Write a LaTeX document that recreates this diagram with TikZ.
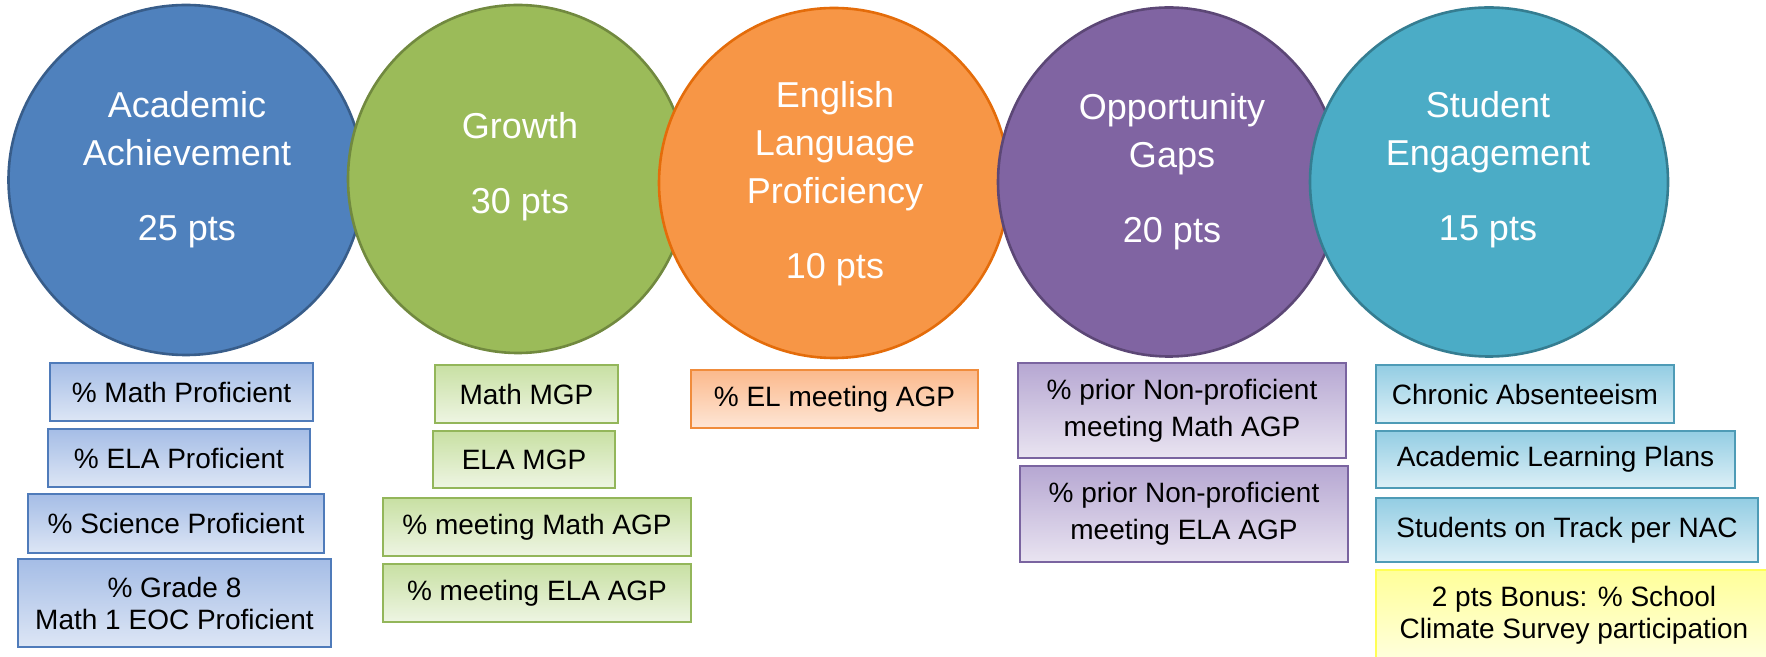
\documentclass[tikz,border=0pt]{standalone}
\usepackage{fontspec}
\setmainfont{Liberation Sans}
\usepackage{tikz}
\usetikzlibrary{shapes}

\definecolor{acblue}{HTML}{4F81BD}
\definecolor{acblueline}{HTML}{385D8A}
\definecolor{grgreen}{HTML}{9BBB59}
\definecolor{grgreenline}{HTML}{71893F}
\definecolor{elorange}{HTML}{F79646}
\definecolor{elorangeline}{HTML}{E46C0A}
\definecolor{oppurple}{HTML}{8064A2}
\definecolor{oppurpleline}{HTML}{5C4776}
\definecolor{seteal}{HTML}{4BACC6}
\definecolor{setealline}{HTML}{357D91}

\definecolor{bxblueline}{HTML}{4F7BBA}
\definecolor{bxbluetop}{HTML}{A5BDE6}
\definecolor{bxbluebot}{HTML}{DDE6F5}
\definecolor{bxgreenline}{HTML}{93B65A}
\definecolor{bxgreentop}{HTML}{C8E0A3}
\definecolor{bxgreenbot}{HTML}{EEF5E3}
\definecolor{bxorangeline}{HTML}{F08C3C}
\definecolor{bxorangetop}{HTML}{FBB98C}
\definecolor{bxorangebot}{HTML}{FEE6D6}
\definecolor{bxpurpleline}{HTML}{7A64A0}
\definecolor{bxpurpletop}{HTML}{B6A7D2}
\definecolor{bxpurplebot}{HTML}{E9E4F1}
\definecolor{bxtealline}{HTML}{4E9BB6}
\definecolor{bxtealtop}{HTML}{93CDE3}
\definecolor{bxtealbot}{HTML}{DDF0F7}
\definecolor{bxyellowline}{HTML}{FFFF55}
\definecolor{bxyellowtop}{HTML}{FFFF99}
\definecolor{bxyellowbot}{HTML}{FFFFDD}

\begin{document}
\begin{tikzpicture}[x=0.5pt,y=-0.5pt]
\tikzstyle{disc}=[ellipse,draw,line width=1.3pt,inner sep=0pt]
\tikzstyle{disctext}=[anchor=north,inner sep=0pt,align=center,text=white,font=\fontsize{18}{24}\selectfont]
\tikzstyle{item}=[draw,line width=0.8pt,inner sep=0pt,align=center,text=black,font=\fontsize{14}{16}\selectfont]
\tikzstyle{blueitem}=[item,draw=bxblueline,top color=bxbluetop,bottom color=bxbluebot]
\tikzstyle{greenitem}=[item,draw=bxgreenline,top color=bxgreentop,bottom color=bxgreenbot]
\tikzstyle{orangeitem}=[item,draw=bxorangeline,top color=bxorangetop,bottom color=bxorangebot]
\tikzstyle{purpleitem}=[item,draw=bxpurpleline,top color=bxpurpletop,bottom color=bxpurplebot,font=\fontsize{14}{18.5}\selectfont]
\tikzstyle{tealitem}=[item,draw=bxtealline,top color=bxtealtop,bottom color=bxtealbot]
\tikzstyle{yellowitem}=[item,draw=bxyellowline,top color=bxyellowtop,bottom color=bxyellowbot]
\clip (0,0) rectangle (1766,657);
\fill[white] (0,0) rectangle (1766,657);

\node[disc,fill=acblue,draw=acblueline,minimum width=177.5pt,minimum height=175pt] (acad) at (186,180) {};
\node[disc,fill=grgreen,draw=grgreenline,minimum width=170pt,minimum height=174pt] (growth) at (518,179) {};
\node[disc,fill=elorange,draw=elorangeline,minimum width=175pt,minimum height=175pt] (elp) at (834,183) {};
\node[disc,fill=oppurple,draw=oppurpleline,minimum width=171pt,minimum height=174.5pt] (gaps) at (1169,182) {};
\node[disc,fill=seteal,draw=setealline,minimum width=179pt,minimum height=174.5pt] (engage) at (1489,182) {};

\node[disctext] (acadtxt) at (187,91) {Academic\\Achievement\\[13.5pt]25 pts};
\node[disctext] (growthtxt) at (520,112) {Growth\\[13.5pt]30 pts};
\node[disctext] (elptxt) at (835,81) {English\\Language\\Proficiency\\[13.5pt]10 pts};
\node[disctext] (gapstxt) at (1172,93) {Opportunity\\Gaps\\[13.5pt]20 pts};
\node[disctext] (engagetxt) at (1488,91) {Student\\Engagement\\[13.5pt]15 pts};

\node[blueitem,minimum width=131.5pt,minimum height=29pt] (mathprof) at (181.5,392) {\% Math Proficient};
\node[blueitem,minimum width=131pt,minimum height=29pt] (elaprof) at (179,458) {\% ELA Proficient};
\node[blueitem,minimum width=148pt,minimum height=29.5pt] (sciprof) at (176,523.5) {\% Science Proficient};
\node[blueitem,minimum width=156.5pt,minimum height=44pt] (eocprof) at (174.5,603) {\% Grade 8\\Math 1 EOC Proficient};

\node[greenitem,minimum width=91.5pt,minimum height=29pt] (mathmgp) at (526.5,394) {Math MGP};
\node[greenitem,minimum width=91pt,minimum height=28.5pt] (elamgp) at (524,459.5) {ELA MGP};
\node[greenitem,minimum width=154pt,minimum height=29pt] (mathagp) at (537,527) {\% meeting Math AGP};
\node[greenitem,minimum width=154pt,minimum height=29pt] (elaagp) at (537,593) {\% meeting ELA AGP};

\node[orangeitem,minimum width=143.5pt,minimum height=29pt] (elagp) at (834.5,399) {\% EL meeting AGP};

\node[purpleitem,minimum width=164pt,minimum height=47.5pt] (npmath) at (1182,410.5) {\% prior Non-proficient\\meeting Math AGP};
\node[purpleitem,minimum width=164pt,minimum height=48pt] (npela) at (1184,514) {\% prior Non-proficient\\meeting ELA AGP};

\node[tealitem,minimum width=149pt,minimum height=29pt] (absent) at (1525,394) {Chronic Absenteeism};
\node[tealitem,minimum width=179.5pt,minimum height=28.5pt] (alp) at (1555.5,459.5) {Academic Learning Plans};
\node[tealitem,minimum width=191pt,minimum height=32pt] (ontrack) at (1567,530) {Students on Track per NAC};
\node[yellowitem,minimum width=198pt,minimum height=45pt] (bonus) at (1574,615) {2 pts Bonus: \% School\\Climate Survey participation};
\end{tikzpicture}
\end{document}
